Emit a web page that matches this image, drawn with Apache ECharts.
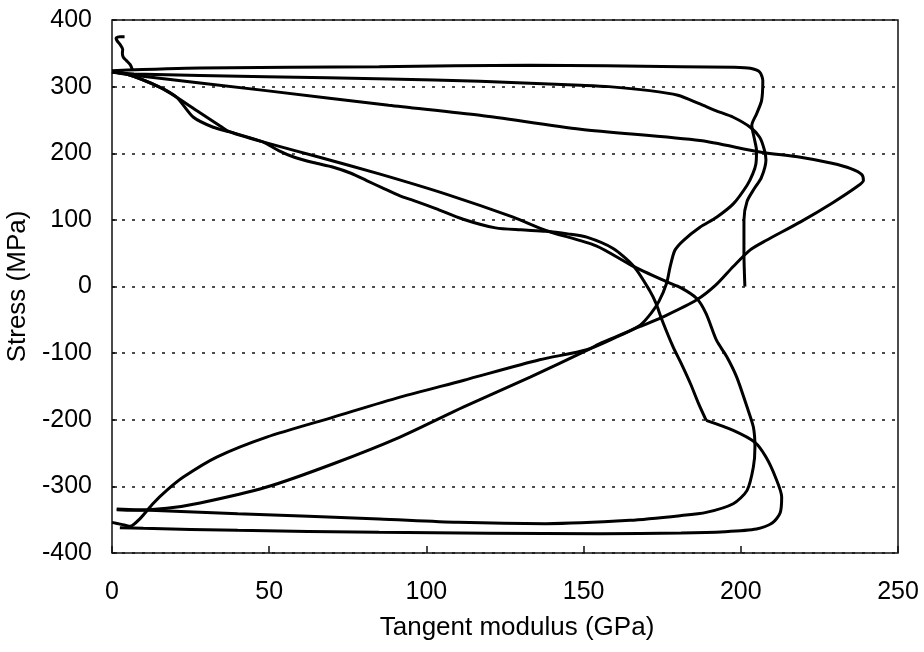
<!DOCTYPE html>
<html>
<head>
    <meta charset="utf-8">
    <title>Tangent modulus vs stress</title>
    <script src="https://cdn.jsdelivr.net/npm/echarts@6/dist/echarts.min.js"></script>
    <style>
        html, body { margin: 0; padding: 0; background: #fff; }
        #chart1 { width: 924px; height: 652px; }
    </style>
</head>
<body>
<div id="chart1"></div>
<script type="text/javascript">
    // axis ticks
    var xTicks = [0, 50, 100, 150, 200, 250];
    var yTicks = [-400, -300, -200, -100, 0, 100, 200, 300, 400];

    // [tangent modulus (GPa), stress (MPa)]
    var elasticLoad = [[201.3,0],[201,50],[201,100],[202,128],[204.3,147],[206.5,163],[208,190],[207.5,205],
        [206,224],[203,239],[197.6,254],[192,264],[187,274],[180,287],[171,294],[158,300],[149,302],
        [117,308],[88,311.5],[49,315],[7,319],[0,322]];

    var yieldReturn = [[0,324],[28,328],[85,330],[133,332],[181,330],[198,329],[203,327.5],[206,322],[207,309],
        [206.6,279],[205,259],[203.5,242],[204.3,222],[205,204],[204.8,184],[203.8,169],[202,152],[197.6,124],
        [192.3,104],[187,89],[181.7,69],[179,54],[177.5,29],[176.4,5],[174,-22],[171.5,-40],[168,-58],
        [159.5,-78],[151,-95],[136,-110],[111.7,-141],[91.6,-166],[70.4,-196],[49.2,-226],[33.3,-256],
        [22.7,-286],[17.4,-306],[13,-326],[9,-348],[5.7,-360],[3,-357],[0,-354]];

    var peakLoop = [[0,322],[7,317],[49,294],[88,272],[117,257],[149,236],[187,219],[206,202],[219,194],
        [229,185],[235,177],[238.5,168],[239,159],[237,150],[229,125],[219,97],[208,69],[203,55],[197.6,30],
        [192,2],[186,-20],[176,-44],[168,-60],[155,-86],[151,-96],[133,-136],[111.7,-181],[91.6,-226],
        [70.4,-266],[49.2,-301],[28,-325],[17.4,-333],[6.7,-336],[1.5,-335]];

    var secondLoad = [[0,322],[4.7,319],[15.3,299],[20.6,284],[26.9,264],[34.4,241],[37.5,232],[48,217],
        [66,194],[85,169],[106,139],[127.6,104],[138,84],[154,61],[165.5,31],[176,8],[181,-2],[186,-18],
        [189,-41],[192.3,-81],[195.5,-105],[198.7,-136],[202,-181],[204,-211],[204.5,-241],[204,-271],
        [202,-306],[197.6,-326],[189,-339],[180.7,-344],[164.8,-351],[138,-356],[110,-354],[85,-349],
        [40,-341],[12,-336],[1.5,-334]];

    var thirdLoad = [[0,322],[4.7,319],[15.3,299],[20.6,284],[25.9,254],[32.2,239],[37.5,232],[48,217],
        [53,204],[58,194],[64,186],[70.4,179],[76,170],[81,159],[86,148],[91.6,136],[96,129],[103,117],
        [111.7,101],[122,88],[130,85],[138,83],[145,79],[151,74],[159.4,57],[166,30],[171,-6],[173,-25],
        [175,-51],[178.5,-91],[181,-115],[184,-146],[186.5,-175],[189,-201]];

    var thirdUnload = [[189,-201],[197.6,-216],[204.5,-234],[208,-256],[211,-286],[213,-316],[212.5,-340],
        [210,-355],[205,-364],[195,-368],[181,-370],[155,-371],[85,-369],[40,-366],[10,-363],[2.5,-362]];

    var hardeningTail = [[6.5,325],[5.8,333],[4.6,339],[3.6,344],[3.3,350],[3.4,356],[2.6,363],[1.6,369],
        [1.3,373],[2.5,375],[4,375]];

    var paths = [elasticLoad, yieldReturn, peakLoop, secondLoad, thirdLoad, thirdUnload, hardeningTail];

    var font = 'Liberation Sans, Arial, sans-serif';
    var myChart = echarts.init(document.getElementById('chart1'));

    myChart.setOption({
        animation: false,
        backgroundColor: '#fff',
        grid: {
            left: 112, right: 26, top: 20, bottom: 99,
            outerBoundsMode: 'none', containLabel: false,
            show: true, borderColor: '#111', borderWidth: 1.5
        },
        xAxis: {
            type: 'value',
            min: xTicks[0], max: xTicks[xTicks.length - 1], interval: 50,
            name: 'Tangent modulus (GPa)',
            nameLocation: 'middle', nameGap: 62,
            nameTextStyle: { color: '#000', fontFamily: font, fontSize: 26, padding: [0, 0, 0, 24] },
            axisLine: { show: false, onZero: false },
            axisTick: { show: true, inside: true, length: 7, lineStyle: { color: '#111', width: 1.5 } },
            axisLabel: { color: '#000', fontFamily: font, fontSize: 25, margin: 27 },
            splitLine: { show: false }
        },
        yAxis: {
            type: 'value',
            min: yTicks[0], max: yTicks[yTicks.length - 1], interval: 100,
            name: 'Stress (MPa)',
            nameLocation: 'middle', nameGap: 80, nameRotate: 90,
            nameTextStyle: { color: '#000', fontFamily: font, fontSize: 26 },
            axisLine: { show: false, onZero: false },
            axisTick: { show: true, inside: true, length: 5, lineStyle: { color: '#111', width: 1.5 } },
            axisLabel: { color: '#000', fontFamily: font, fontSize: 25, margin: 20 },
            splitLine: { show: true, lineStyle: { color: '#111', width: 1.6, type: [3, 7] } }
        },
        series: paths.map(function (p) {
            return {
                type: 'line',
                data: p,
                smooth: 0.25,
                symbol: 'none',
                lineStyle: { color: '#000', width: 3 }
            };
        })
    });
</script>
</body>
</html>
